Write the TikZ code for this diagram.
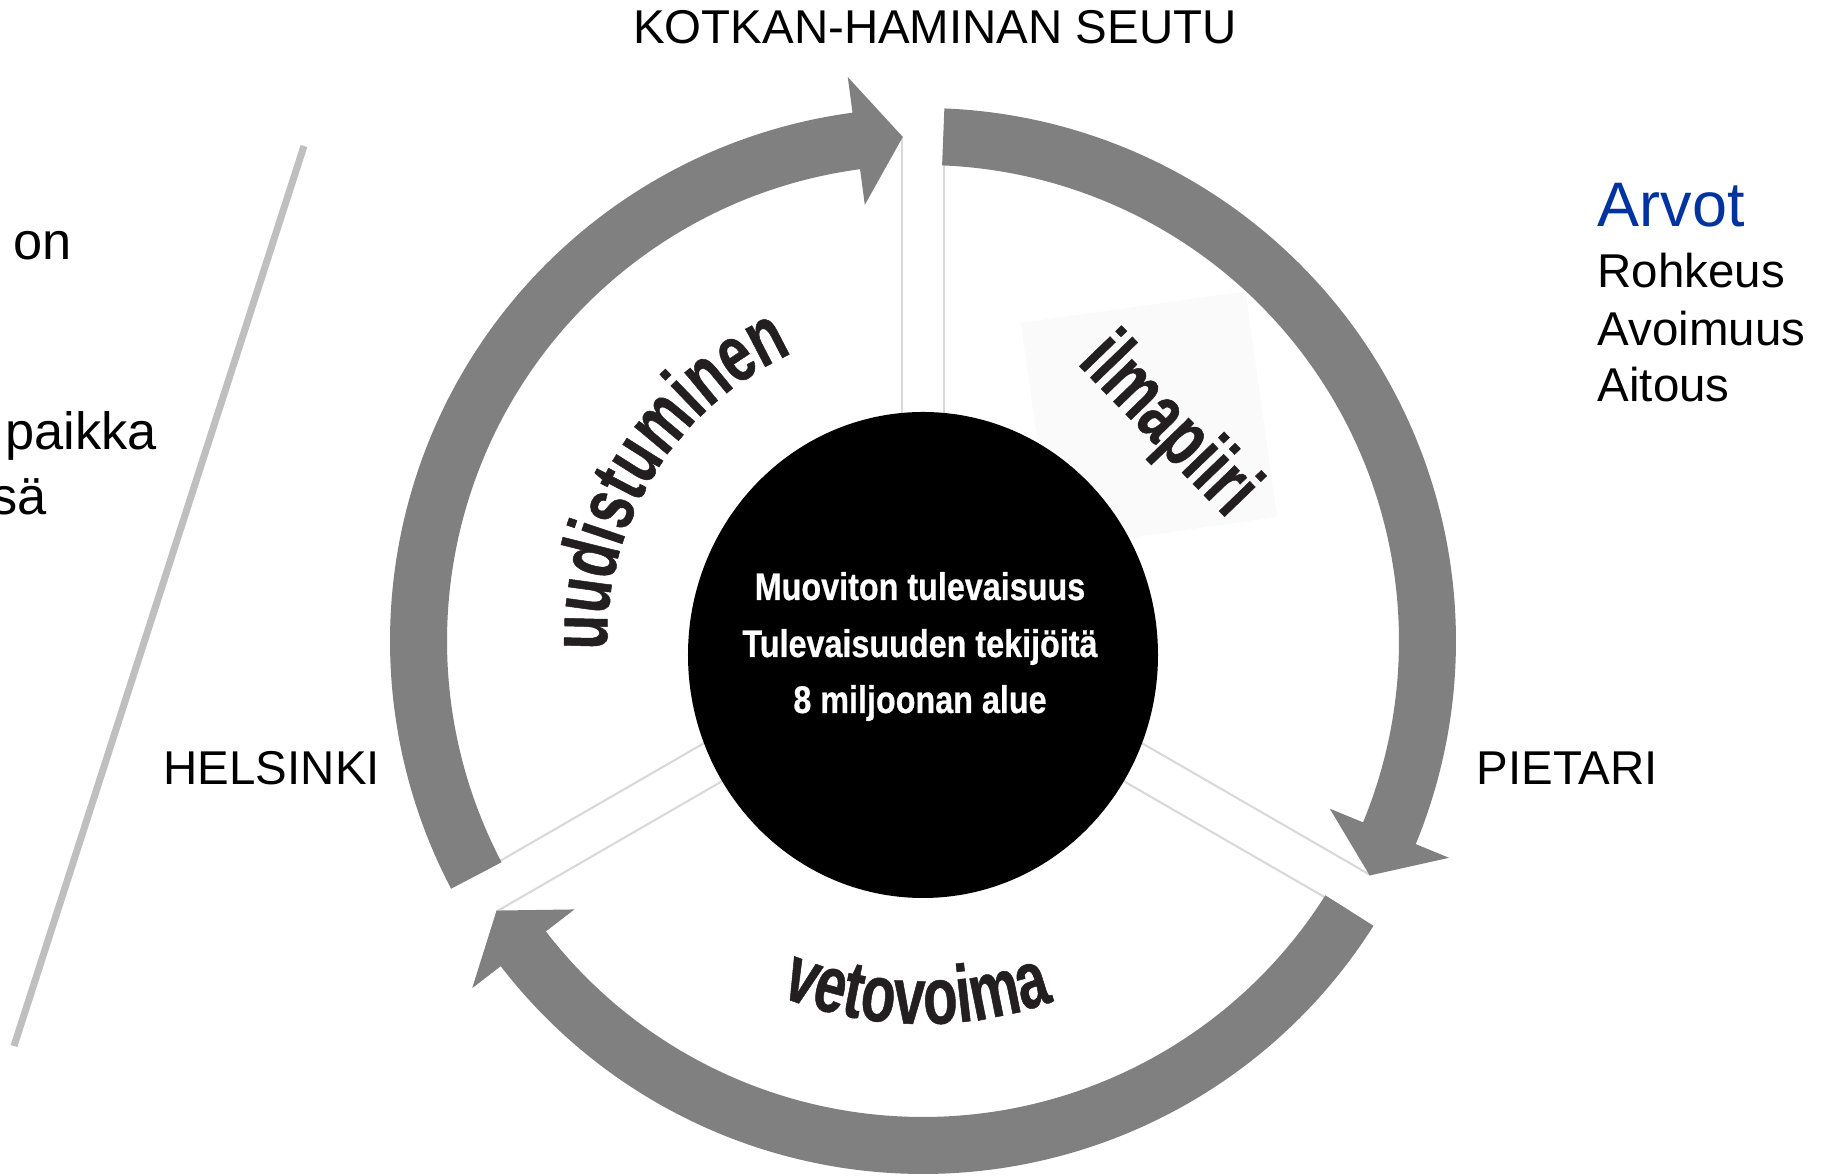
\documentclass[tikz,border=0pt]{standalone}
\usepackage{fontspec}
\setmainfont{Liberation Sans}
\newfontfamily\narrowfont[FakeStretch=0.84,FakeBold=0.6]{Liberation Sans}
\newfontfamily\wordfont[FakeStretch=0.70,FakeBold=0.6]{Liberation Sans}
\usetikzlibrary{decorations.text}
\definecolor{ringgray}{HTML}{808080}
\definecolor{spokegray}{HTML}{D9D9D9}
\definecolor{slashgray}{HTML}{BFBFBF}
\definecolor{arvotblue}{HTML}{0033A0}
\definecolor{wordink}{HTML}{231F20}
\definecolor{boxwhite}{HTML}{FAFAFA}

\begin{document}
\begin{tikzpicture}[
  ring/.style={fill=ringgray},
  spoke/.style={draw=spokegray,line width=0.6pt},
  cityname/.style={inner sep=0pt,anchor=base west,font=\fontsize{13.5}{16}\selectfont},
  lefttext/.style={inner sep=0pt,anchor=base west,font=\fontsize{14.9}{18}\selectfont},
  goal/.style={inner sep=0pt,anchor=base,text=white,font=\narrowfont\bfseries\fontsize{10.95}{16}\selectfont},
  word/.style={inner sep=0pt,text=wordink,font=\wordfont\bfseries\fontsize{23}{28}\selectfont}
]
  \useasboundingbox (-9.23,-5.35) rectangle (9.10,6.41);
  \clip (-9.23,-5.35) rectangle (9.10,6.41);

  % Spokes between the sectors
  \foreach \gap in {90,-30,210} {
    \draw[spoke,rotate=\gap] (1.5,0.21) -- (5.05,0.21);
    \draw[spoke,rotate=\gap] (1.5,-0.21) -- (5.05,-0.21);
  }

  % Cycle arrows
  \fill[ring] (207.7:5.33) arc[start angle=207.7,end angle=97.6,radius=5.33]
    -- (97.6:5.69) -- (92.3:5.045) -- (97.6:4.40) -- (97.6:4.76)
    arc[start angle=97.6,end angle=207.7,radius=4.76] -- cycle;
  \fill[ring] (87.7:5.33) arc[start angle=87.7,end angle=-22.4,radius=5.33]
    -- (-22.4:5.69) -- (-27.7:5.045) -- (-22.4:4.40) -- (-22.4:4.76)
    arc[start angle=-22.4,end angle=87.7,radius=4.76] -- cycle;
  \fill[ring] (-32.3:5.33) arc[start angle=-32.3,end angle=-142.4,radius=5.33]
    -- (-142.4:5.69) -- (-147.7:5.045) -- (-142.4:4.40) -- (-142.4:4.76)
    arc[start angle=-142.4,end angle=-32.3,radius=4.76] -- cycle;

  % Backing of the upper right word
  \node[fill=boxwhite,minimum width=2.27cm,minimum height=2.28cm,inner sep=0pt,rotate=8] (ilmabox) at (2.26,2.21) {};

  % Centre
  \fill[black] (0,-0.14) ellipse (2.35 and 2.43);
  \node[goal] (goal1) at (-0.03,0.41) {Muoviton tulevaisuus};
  \node[goal] (goal2) at (-0.03,-0.16) {Tulevaisuuden tekijöitä};
  \node[goal] (goal3) at (-0.03,-0.72) {8 miljoonan alue};

  % Sector words
  \path[decorate,decoration={text along path,text align=center,
    text={|\wordfont\bfseries\fontsize{23}{28}\selectfont\color{wordink}|uudistuminen}}]
    (200:3.16) arc[start angle=200,end angle=96,radius=3.16];
  \node[word,rotate=-46] (ilma) at (2.44,2.14) {ilmapiiri};
  \path[decorate,decoration={text along path,text align=center,
    text={|\wordfont\bfseries\fontsize{23}{28}\selectfont\color{wordink}|vetovoima}}]
    (-121:3.83) arc[start angle=-121,end angle=-61,radius=3.83];

  % Places
  \node[cityname,anchor=base] (kotka) at (0.12,5.97) {KOTKAN-HAMINAN SEUTU};
  \node[cityname] (helsinki) at (-7.60,-1.44) {HELSINKI};
  \node[cityname] (pietari) at (5.53,-1.44) {PIETARI};

  % Values
  \node[cityname,text=arvotblue,font=\fontsize{17.9}{21}\selectfont] (arvot) at (6.74,4.14) {Arvot};
  \node[cityname] (rohkeus) at (6.74,3.53) {Rohkeus};
  \node[cityname] (avoimuus) at (6.74,2.95) {Avoimuus};
  \node[cityname] (aitous) at (6.74,2.39) {Aitous};

  % Left margin
  \draw[slashgray,line width=2pt] (-6.19,4.95) -- (-9.09,-4.05);
  \node[lefttext] (on) at (-9.10,3.81) {on};
  \node[lefttext] (paikka) at (-9.18,1.91) {paikka};
  \node[lefttext] (sa) at (-9.32,1.26) {sä};
\end{tikzpicture}
\end{document}
